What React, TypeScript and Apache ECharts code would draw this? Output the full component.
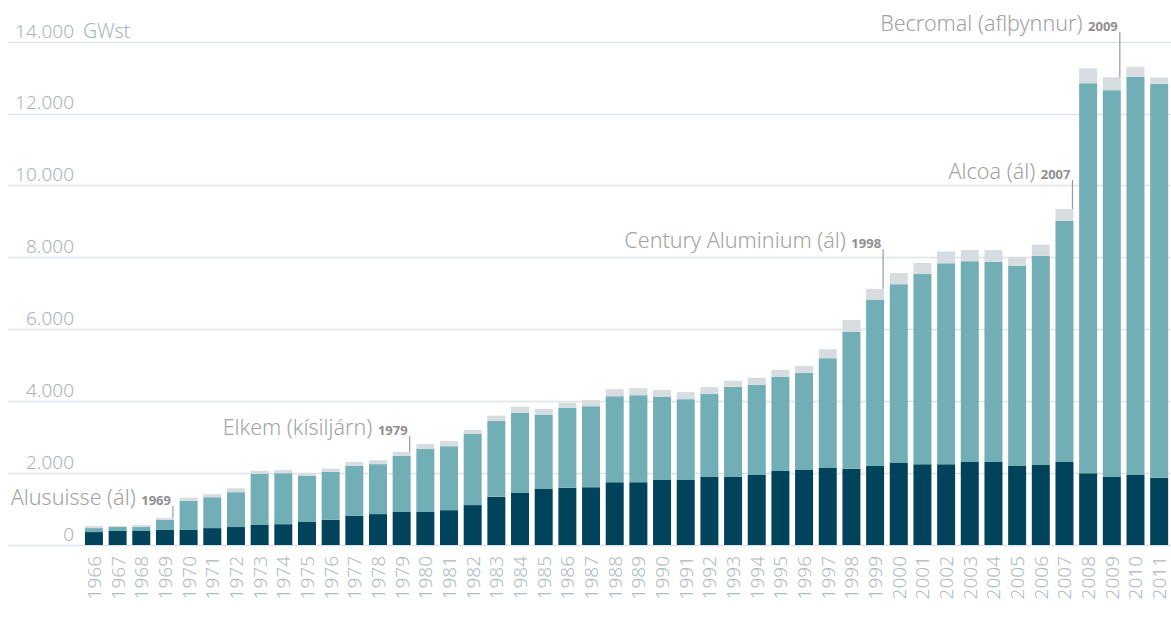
import React, { useEffect, useRef } from 'react';
import * as echarts from 'echarts';

const years = [
  '1966','1967','1968','1969','1970','1971','1972','1973','1974','1975',
  '1976','1977','1978','1979','1980','1981','1982','1983','1984','1985',
  '1986','1987','1988','1989','1990','1991','1992','1993','1994','1995',
  '1996','1997','1998','1999','2000','2001','2002','2003','2004','2005',
  '2006','2007','2008','2009','2010','2011',
];

// dark segment (bottom)
const baseUse = [
  360, 390, 390, 420, 420, 470, 500, 560, 580, 640,
  700, 810, 860, 920, 920, 970, 1110, 1340, 1450, 1560,
  1590, 1610, 1750, 1750, 1810, 1810, 1890, 1890, 1950, 2060,
  2090, 2140, 2120, 2200, 2280, 2250, 2250, 2310, 2310, 2200,
  2230, 2310, 2000, 1890, 1950, 1870,
];

// teal segment (middle)
const industryUse = [
  110, 110, 110, 280, 810, 860, 970, 1420, 1420, 1280,
  1340, 1390, 1390, 1560, 1750, 1780, 1980, 2120, 2230, 2060,
  2230, 2250, 2390, 2420, 2310, 2250, 2310, 2510, 2510, 2620,
  2700, 3060, 3810, 4620, 4980, 5290, 5590, 5590, 5570, 5570,
  5820, 6710, 10850, 10770, 11080, 10970,
];

// light grey segment (top)
const otherUse = [
  55, 30, 55, 55, 85, 85, 110, 85, 85, 85,
  85, 110, 110, 110, 140, 140, 110, 140, 170, 170,
  140, 170, 195, 195, 195, 195, 195, 170, 195, 195,
  195, 250, 330, 310, 310, 310, 330, 310, 330, 250,
  310, 330, 420, 360, 280, 170,
];

const yMin = 0;
const yMax = 14000;
const yStep = 2000;
const unitLabel = 'GWst';

const annotationNames = ['Alusuisse (ál)', 'Elkem (kísiljárn)', 'Century Aluminium (ál)', 'Alcoa (ál)', 'Becromal (aflþynnur)'];
const annotationYears = ['1969', '1979', '1998', '2007', '2009'];
const annotationBars = ['1969', '1979', '1999', '2007', '2009'];
// text baseline positions (layout only)
const annotationTextY = [503, 433, 246, 177, 29];

const FONT = 'Noto Sans';

function fmt(v: number): string {
  return String(v).replace(/\B(?=(\d{3})+(?!\d))/g, '.');
}

export default function App() {
  const ref = useRef<HTMLDivElement>(null);

  useEffect(() => {
    const chart = echarts.init(ref.current!, null, { renderer: 'svg' });
    chart.setOption({
      animation: false,
      grid: [
        { left: 8, right: 0, top: 42, bottom: 74 },
        { left: 82.1, right: -2.8, top: 42, bottom: 74 },
      ],
      xAxis: [
        { type: 'value', gridIndex: 0, show: false, min: 0, max: 1 },
        {
          type: 'category',
          gridIndex: 1,
          data: years,
          axisLine: { show: false },
          axisTick: { show: false },
          axisLabel: {
            rotate: 90,
            margin: 11,
            interval: 0,
            color: '#b0babf',
            fontSize: 19,
            fontFamily: FONT,
            fontWeight: 300,
          },
        },
      ],
      yAxis: [
        {
          type: 'value',
          gridIndex: 0,
          min: yMin,
          max: yMax,
          interval: yStep,
          axisLine: { show: false },
          axisTick: { show: false },
          splitLine: { lineStyle: { color: '#dde2e5', width: 1.3 } },
          axisLabel: {
            inside: true,
            margin: 66,
            align: 'right',
            verticalAlign: 'bottom',
            padding: [0, 0, 2, 0],
            color: '#a9b4ba',
            fontSize: 19,
            fontFamily: FONT,
            fontWeight: 300,
            formatter: (v: number) => fmt(v),
          },
        },
        { type: 'value', gridIndex: 1, min: yMin, max: yMax, interval: yStep, show: false },
      ],
      series: [
        {
          type: 'bar', xAxisIndex: 1, yAxisIndex: 1, stack: 'total', data: baseUse,
          barCategoryGap: '24%', itemStyle: { color: '#01435a' },
        },
        {
          type: 'bar', xAxisIndex: 1, yAxisIndex: 1, stack: 'total', data: industryUse,
          barCategoryGap: '24%', itemStyle: { color: '#71aeb5' },
        },
        {
          type: 'bar', xAxisIndex: 1, yAxisIndex: 1, stack: 'total', data: otherUse,
          barCategoryGap: '24%', itemStyle: { color: '#d6dcdf' },
        },
      ],
    });

    const topTick = chart.convertToPixel({ yAxisIndex: 0 }, yMax) as number;
    const elements: any[] = [
      {
        type: 'text',
        x: 83,
        y: topTick - 2,
        z: 10,
        style: {
          text: unitLabel,
          fill: '#a9b4ba',
          fontSize: 19.5,
          fontFamily: FONT,
          fontWeight: 300,
          verticalAlign: 'bottom',
          textVerticalAlign: 'bottom',
        },
      },
    ];

    annotationNames.forEach((name, i) => {
      const idx = years.indexOf(annotationBars[i]);
      const total = baseUse[idx] + industryUse[idx] + otherUse[idx];
      const p = chart.convertToPixel({ gridIndex: 1 }, [idx, total]) as number[];
      const nIdx = idx < years.length - 1 ? idx + 1 : idx - 1;
      const p2 = chart.convertToPixel({ gridIndex: 1 }, [nIdx, 0]) as number[];
      const band = Math.abs(p2[0] - p[0]);
      const lineX = p[0] + band * 0.38 - 1;
      const ty = annotationTextY[i];
      elements.push({
        type: 'line',
        z: 10,
        shape: { x1: lineX, y1: ty + 3, x2: lineX, y2: p[1] },
        style: { stroke: '#9a9a9a', lineWidth: 1.2 },
      });
      elements.push({
        type: 'text',
        z: 10,
        x: lineX - 2,
        y: ty + 4,
        style: {
          text: `{a|${name} }{b|${annotationYears[i]}}`,
          align: 'right',
          textAlign: 'right',
          verticalAlign: 'bottom',
          textVerticalAlign: 'bottom',
          fontFamily: FONT,
          fontSize: 21.5,
          rich: {
            a: { fontSize: 21.5, fontFamily: FONT, fontWeight: 300, fill: '#a2a2a2', verticalAlign: 'bottom' },
            b: { fontSize: 13, fontFamily: FONT, fontWeight: 'bold', fill: '#8f8f8f', verticalAlign: 'bottom', padding: [0, 0, 1, 0] },
          },
        },
      });
    });

    chart.setOption({ graphic: { elements } });

    return () => chart.dispose();
  }, []);

  return (
    <div
      ref={ref}
      style={{ position: 'fixed', left: 0, top: 0, width: 1171, height: 619, background: '#ffffff' }}
    />
  );
}
